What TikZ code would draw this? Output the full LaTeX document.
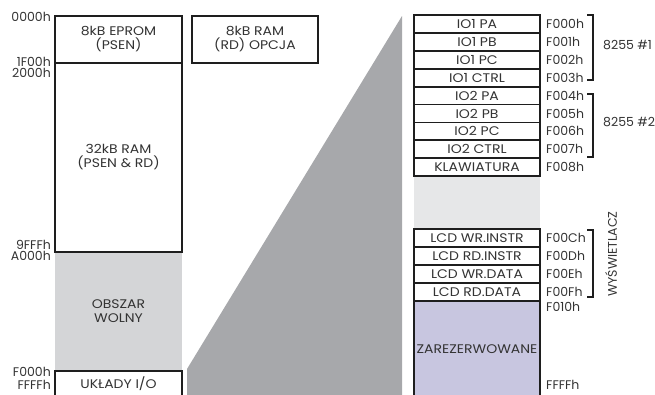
\documentclass[tikz,border=0pt]{standalone}
\usepackage{fontspec}
\setmainfont{Poppins}
\newfontfamily\wideface[FakeStretch=1.12]{Poppins}
\usepackage{xcolor}
\usepackage{tikz}
\usetikzlibrary{positioning,backgrounds}
\definecolor{mtext}{HTML}{333333}
\definecolor{mline}{HTML}{1E1E1E}
\definecolor{mshade}{HTML}{A7A8AB}
\definecolor{mfree}{HTML}{D4D5D7}
\definecolor{mgap}{HTML}{E6E7E8}
\definecolor{mres}{HTML}{C8C6E0}
\tikzset{
  mfont/.style={font=\fontsize{12.5}{14}\selectfont, text=mtext},
  wfont/.style={font=\wideface\fontsize{12.5}{14}\selectfont, text=mtext},
  blk/.style={wfont, draw=mline, line width=1.8pt, minimum width=127pt,
    inner sep=0pt, outer sep=0pt, align=center},
  cell/.style={blk, minimum width=126pt, minimum height=17.9pt},
  area/.style={wfont, inner sep=0pt, outer sep=0pt, align=center},
  addr/.style={mfont, inner sep=0pt},
  brk/.style={draw=mline, line width=1.1pt}}
\newcommand{\mrow}[3]{\node[cell, below=0pt of #2] (#1) {#3};}
\newcommand{\maddr}[3]{\node[addr, anchor=west, right=6pt of #2] (#1) {#3};}
\newcommand{\mleft}[3]{\node[addr, anchor=east] (#1) at (51,#2) {#3};}
\newcommand{\mbrack}[2]{\draw[brk] (587,#1) -- (593,#1) -- (593,#2) -- (587,#2);}

\begin{document}
\begin{tikzpicture}[x=1pt,y=-1pt]
  \useasboundingbox (0,0) rectangle (655,394);
  % wedge towards the I/O map
  \fill[mshade] (187,396) -- (187,369) -- (402,16) -- (402,396) -- cycle;
  % main memory map
  \node[blk, minimum height=47pt, anchor=north west] (eprom) at (55,16) {8kB EPROM\\(PSEN)};
  \node[blk, minimum height=189pt, below=0pt of eprom] (ram) {32kB RAM\\(PSEN \& RD)};
  \begin{scope}[on background layer]
    \node[area, fill=mfree, minimum width=127pt, minimum height=119pt, below=0pt of ram] (wolny) {OBSZAR\\WOLNY};
  \end{scope}
  \node[blk, minimum height=25pt, below=0pt of wolny] (io) {UKŁADY I/O};
  \node[blk, minimum width=126pt, minimum height=47pt, anchor=north west] (opcja) at (192,16) {8kB RAM\\(RD) OPCJA};
  \mleft{a0000}{17}{0000h} \mleft{a1f00}{62}{1F00h} \mleft{a2000}{73}{2000h}
  \mleft{a9fff}{245}{9FFFh} \mleft{aa000}{256}{A000h}
  \mleft{af000}{372}{F000h} \mleft{affff}{385}{FFFFh}
  % I/O area
  \node[cell, anchor=north west] (iopa) at (414,15) {IO1 PA};
  \mrow{iopb}{iopa}{IO1 PB} \mrow{iopc}{iopb}{IO1 PC} \mrow{ioctrl}{iopc}{IO1 CTRL}
  \mrow{iipa}{ioctrl}{IO2 PA} \mrow{iipb}{iipa}{IO2 PB} \mrow{iipc}{iipb}{IO2 PC}
  \mrow{iictrl}{iipc}{IO2 CTRL} \mrow{klaw}{iictrl}{KLAWIATURA}
  \begin{scope}[on background layer]
    \node[area, fill=mgap, minimum width=126pt, minimum height=53pt, below=0pt of klaw] (gap) {};
  \end{scope}
  \mrow{lwi}{gap}{LCD WR.INSTR} \mrow{lri}{lwi}{LCD RD.INSTR}
  \mrow{lwd}{lri}{LCD WR.DATA} \mrow{lrd}{lwd}{LCD RD.DATA}
  \node[blk, fill=mres, minimum width=126pt, minimum height=96pt, below=0pt of lrd] (zarez) {ZAREZERWOWANE};
  \maddr{f0}{iopa}{F000h} \maddr{f1}{iopb}{F001h} \maddr{f2}{iopc}{F002h}
  \maddr{f3}{ioctrl}{F003h} \maddr{f4}{iipa}{F004h} \maddr{f5}{iipb}{F005h}
  \maddr{f6}{iipc}{F006h} \maddr{f7}{iictrl}{F007h} \maddr{f8}{klaw}{F008h}
  \maddr{fc}{lwi}{F00Ch} \maddr{fd}{lri}{F00Dh} \maddr{fe}{lwd}{F00Eh} \maddr{ff}{lrd}{F00Fh}
  \node[addr, anchor=west] (f10) at (546,307) {F010h};
  \node[addr, anchor=west] (fend) at (546,385) {FFFFh};
  % groups
  \mbrack{15}{80} \mbrack{94}{157} \mbrack{230}{297}
  \node[addr, anchor=west] (ppi1) at (603,45) {8255 \#1};
  \node[addr, anchor=west] (ppi2) at (603,122) {8255 \#2};
  \node[addr, rotate=90] (lcd) at (611,254) {WYŚWIETLACZ};
\end{tikzpicture}
\end{document}
